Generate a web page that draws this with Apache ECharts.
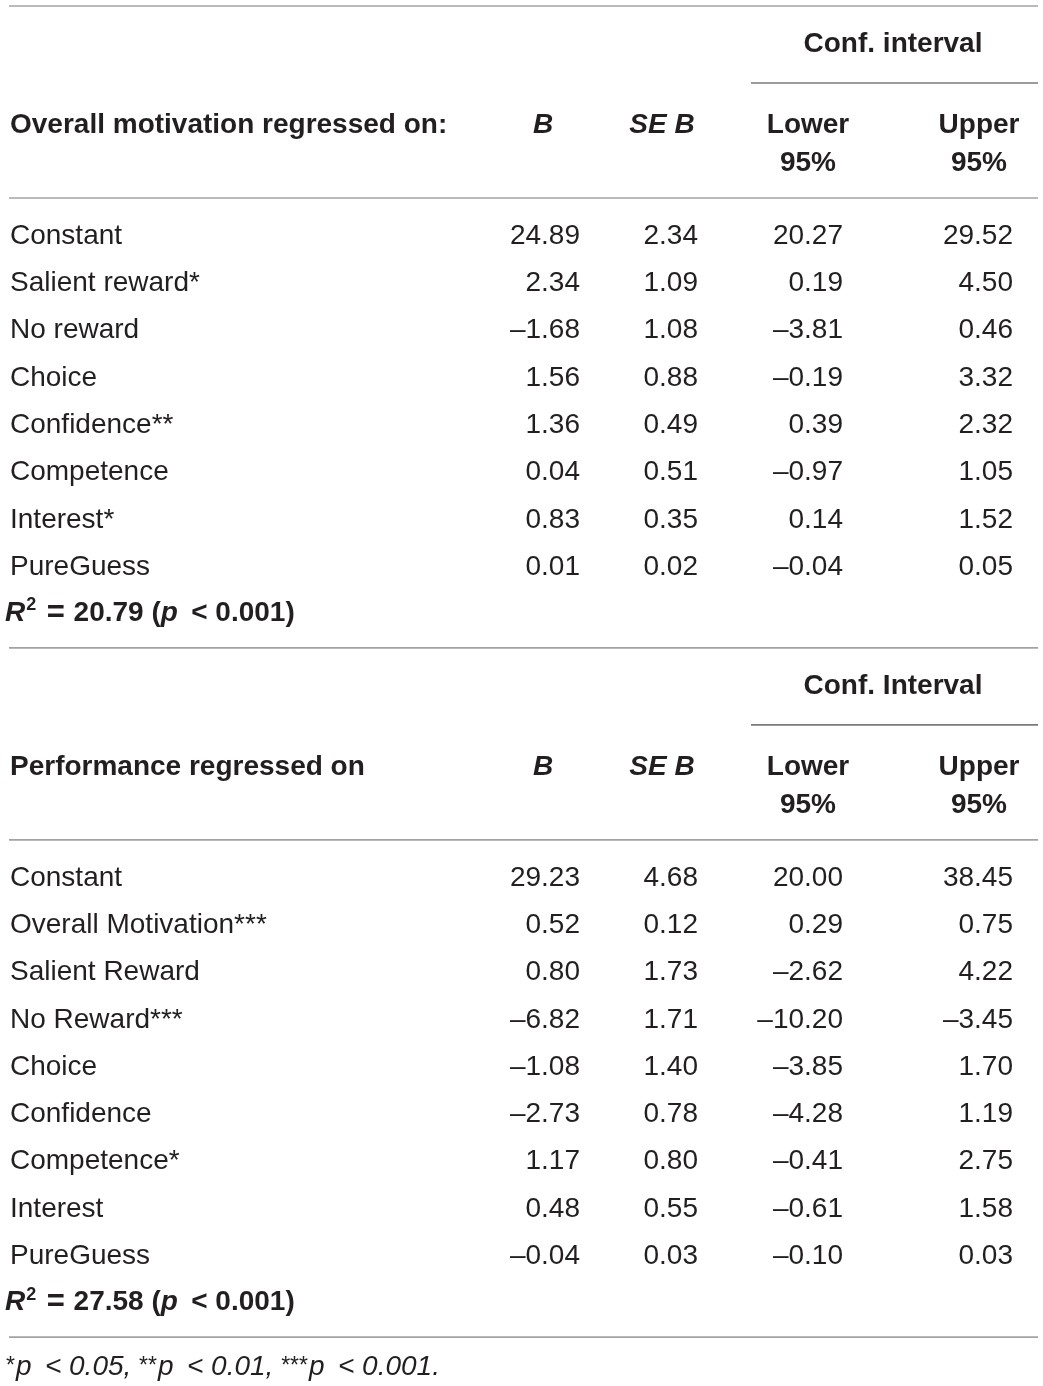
<!DOCTYPE html>
<html>
<head>
<meta charset="utf-8">
<title>Regression table</title>
<script src="https://cdn.jsdelivr.net/npm/echarts@6/dist/echarts.min.js"></script>
<style>
	html, body { margin: 0; padding: 0; background: #fff; }
	#main { width: 1043px; height: 1386px; }
</style>
</head>
<body>
<div id="main"></div>
<script>
// table 1: overall motivation
var title1 = 'Overall motivation regressed on:';
var ciTitle1 = 'Conf. interval';
var labels1 = ['Constant', 'Salient reward*', 'No reward', 'Choice', 'Confidence**', 'Competence', 'Interest*', 'PureGuess'];
var b1 = [24.89, 2.34, -1.68, 1.56, 1.36, 0.04, 0.83, 0.01];
var se1 = [2.34, 1.09, 1.08, 0.88, 0.49, 0.51, 0.35, 0.02];
var lower1 = [20.27, 0.19, -3.81, -0.19, 0.39, -0.97, 0.14, -0.04];
var upper1 = [29.52, 4.50, 0.46, 3.32, 2.32, 1.05, 1.52, 0.05];
var r2_1 = 20.79;

// table 2: performance
var title2 = 'Performance regressed on';
var ciTitle2 = 'Conf. Interval';
var labels2 = ['Constant', 'Overall Motivation***', 'Salient Reward', 'No Reward***', 'Choice', 'Confidence', 'Competence*', 'Interest', 'PureGuess'];
var b2 = [29.23, 0.52, 0.80, -6.82, -1.08, -2.73, 1.17, 0.48, -0.04];
var se2 = [4.68, 0.12, 1.73, 1.71, 1.40, 0.78, 0.80, 0.55, 0.03];
var lower2 = [20.00, 0.29, -2.62, -10.20, -3.85, -4.28, -0.41, -0.61, -0.10];
var upper2 = [38.45, 0.75, 4.22, -3.45, 1.70, 1.19, 2.75, 1.58, 0.03];
var r2_2 = 27.58;

// significance levels for the footnote
var sigStars = ['*', '**', '***'];
var sigLevels = ['0.05', '0.01', '0.001'];

var FONT = '"Liberation Sans", Arial, sans-serif';
var INK = '#231f20';

// column anchors (layout units = pixels of the axis range)
var colLabel = 10, colB = 580, colSE = 698, colLo = 843, colUp = 1013;
var hdB = 543, hdSE = 662, hdLo = 808, hdUp = 979, hdCI = 893;
var ruleL = 9, ruleR = 1038, ciRuleL = 751;
var rowStep = 47.3;
var tShift = 2; // text sits a touch lower than the rule grid

var cells = [];   // {x, y, text, align, weight, style, rich}
var rules = [];   // {x1, x2, y, color}

function fmt(v){
	var s = Math.abs(v).toFixed(2);
	return (v < 0 ? '\u2013' : '') + s;
}

function addCell(x, y, text, align, weight, style){
	cells.push({x: x, y: y + tShift, text: text, align: align, weight: weight || 'normal', style: style || 'normal'});
}

function buildBlock(top, title, ciTitle, labels, b, se, lo, up, r2){
	rules.push({x1: ruleL, x2: ruleR, y: top, color: '#a3a3a3'});
	addCell(hdCI, top + 36, ciTitle, 'center', 'bold');
	rules.push({x1: ciRuleL, x2: ruleR, y: top + 77, color: '#7a7a7a'});
	addCell(colLabel, top + 117, title, 'left', 'bold');
	addCell(hdB, top + 117, 'B', 'center', 'bold', 'italic');
	addCell(hdSE, top + 117, 'SE B', 'center', 'bold', 'italic');
	addCell(hdLo, top + 117, 'Lower', 'center', 'bold');
	addCell(hdUp, top + 117, 'Upper', 'center', 'bold');
	addCell(hdLo, top + 155, '95%', 'center', 'bold');
	addCell(hdUp, top + 155, '95%', 'center', 'bold');
	rules.push({x1: ruleL, x2: ruleR, y: top + 192, color: '#a3a3a3'});
	var y0 = top + 228;
	for(var i = 0; i < labels.length; i++){
		var y = y0 + i * rowStep;
		addCell(colLabel, y, labels[i], 'left');
		addCell(colB, y, fmt(b[i]), 'right');
		addCell(colSE, y, fmt(se[i]), 'right');
		addCell(colLo, y, fmt(lo[i]), 'right');
		addCell(colUp, y, fmt(up[i]), 'right');
	}
	var yR = y0 + labels.length * rowStep - 1;
	cells.push({x: 5, y: yR + tShift, align: 'left', rich: true,
		text: '{it|R}{sup|2}{eq| = }{b|' + r2.toFixed(2) + ' (}{it|p}{b|\u2009 < 0.001)}'});
	return yR + 36.5;
}

var next = buildBlock(6, title1, ciTitle1, labels1, b1, se1, lower1, upper1, r2_1);
next = buildBlock(next, title2, ciTitle2, labels2, b2, se2, lower2, upper2, r2_2);
rules.push({x1: ruleL, x2: ruleR, y: next, color: '#a3a3a3'});

var noteParts = [];
for(var k = 0; k < sigStars.length; k++){
	noteParts.push('{fs|' + sigStars[k] + '}{fi|p\u2009 < ' + sigLevels[k] + (k < sigStars.length - 1 ? ', ' : '.') + '}');
}
cells.push({x: colLabel - 4, y: next + 28 + tShift, align: 'left', rich: true, text: noteParts.join('')});

var richStyle = {
	it: {fontFamily: FONT, fontSize: 28, fontWeight: 'bold', fontStyle: 'italic', lineHeight: 34, fill: INK},
	b: {fontFamily: FONT, fontSize: 28, fontWeight: 'bold', lineHeight: 34, fill: INK},
	eq: {fontFamily: FONT, fontSize: 31, fontWeight: 'bold', lineHeight: 34, fill: INK},
	sup: {fontFamily: FONT, fontSize: 18, fontWeight: 'bold', lineHeight: 34, verticalAlign: 'top', fill: INK, padding: [0, 2, 0, 1]},
	fi: {fontFamily: FONT, fontSize: 28, fontStyle: 'italic', lineHeight: 34, fill: INK},
	fs: {fontFamily: FONT, fontSize: 23, lineHeight: 34, fill: INK, padding: [0, 1, 0, 0]}
};

var myChart = echarts.init(document.getElementById('main'), null, {renderer: 'canvas'});

var option = {
	backgroundColor: '#ffffff',
	animation: false,
	grid: {left: 0, right: 0, top: 0, bottom: 0},
	xAxis: {type: 'value', min: 0, max: 1043, show: false},
	yAxis: {type: 'value', min: 0, max: 1386, inverse: true, show: false},
	series: [
		{
			type: 'custom',
			silent: true,
			clip: false,
			data: rules.map(function(r){ return [r.x1, r.x2, r.y]; }),
			renderItem: function(params, api){
				var p1 = api.coord([api.value(0), api.value(2)]);
				var p2 = api.coord([api.value(1), api.value(2)]);
				return {
					type: 'line',
					shape: {x1: p1[0], y1: p1[1], x2: p2[0], y2: p2[1]},
					style: {stroke: rules[params.dataIndex].color, lineWidth: 1.6}
				};
			}
		},
		{
			type: 'custom',
			silent: true,
			clip: false,
			data: cells.map(function(c){ return [c.x, c.y]; }),
			renderItem: function(params, api){
				var c = cells[params.dataIndex];
				var p = api.coord([api.value(0), api.value(1)]);
				var style = {
					text: c.text,
					x: 0, y: 0,
					align: c.align,
					verticalAlign: 'middle',
					fill: INK,
					fontFamily: FONT,
					fontSize: 28
				};
				if(c.rich){
					style.rich = richStyle;
				}else{
					style.fontWeight = c.weight;
					style.fontStyle = c.style;
				}
				return {type: 'text', x: p[0], y: p[1], style: style};
			}
		}
	]
};

myChart.setOption(option);
</script>
</body>
</html>
